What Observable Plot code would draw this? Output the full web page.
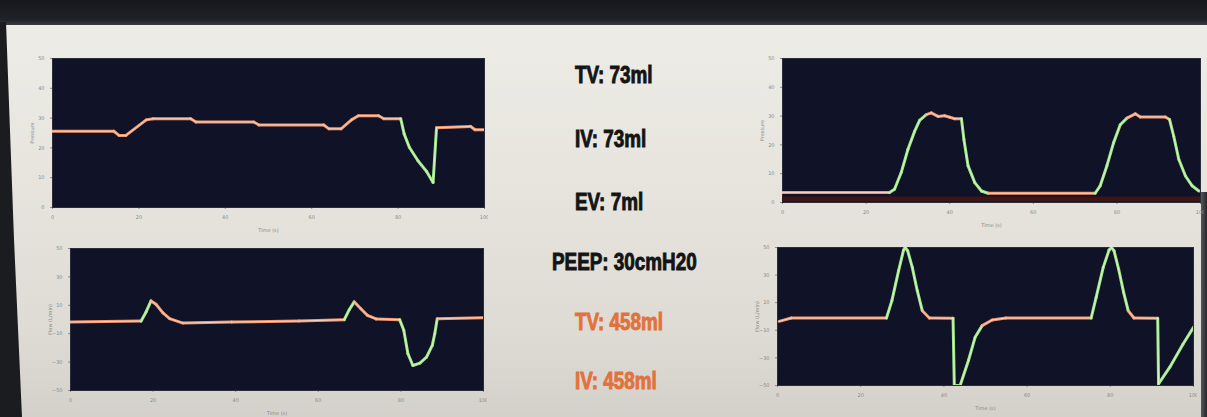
<!DOCTYPE html>
<html><head><meta charset="utf-8">
<script src="https://cdn.jsdelivr.net/npm/d3@7"></script>
<script src="https://cdn.jsdelivr.net/npm/@observablehq/plot@0.6"></script>
<style>
html,body{margin:0;padding:0;}
body{width:1207px;height:417px;overflow:hidden;position:relative;
 background:linear-gradient(180deg,#eeede7 0%,#e6e4dd 45%,#dddbd4 80%,#d3d1ca 100%);
 font-family:"Liberation Sans",sans-serif;}
#topband{position:absolute;left:0;top:0;width:1207px;height:25px;background:linear-gradient(180deg,#15171c 0%,#1f2228 80%,#3a3c40 100%);}
#leftedge{position:absolute;left:0;top:22px;width:26px;height:395px;background:#1b1c20;
 clip-path:polygon(0 0,6px 0,14px 55%,22px 100%,0 100%);}
#rightedge{position:absolute;left:1201px;top:192px;width:6px;height:225px;background:linear-gradient(90deg,#55565a,#26272b);}
.chart{position:absolute;}
.stat{position:absolute;font-family:"Liberation Sans",sans-serif;font-weight:700;
 font-size:23px;line-height:23px;white-space:nowrap;-webkit-text-stroke:0.9px currentColor;
 transform:scaleX(0.82);transform-origin:0 50%;}
.dark{color:#141414;}
.orange{color:#e2723d;}
</style></head><body>
<div id="topband"></div>
<div id="leftedge"></div>
<div id="rightedge"></div>
<div id="tl" class="chart" style="left:18px;top:54px"></div>
<div id="bl" class="chart" style="left:36px;top:244px"></div>
<div id="tr" class="chart" style="left:748px;top:54px"></div>
<div id="br" class="chart" style="left:743px;top:243px"></div>
<div id="stats"></div>
<script>
// ---- Tick labels ----
const timeTicks = [0, 20, 40, 60, 80, 100];
const pressureTicks = [0, 10, 20, 30, 40, 50];
const flowTicks = [-50, -30, -10, 10, 30, 50];

// ---- Top-left: pressure (small breath) ----
const tlTime = [0,14.2,15.4,17.0,21.7,23.3,32.0,33.2,46.6,47.8,62.8,64.0,66.8,69.2,70.8,75.5,76.7,80.6,81.4,82.6,84.6,86.6,88.1,88.9,96.8,97.8,100];
const tlPressure = [25.6,25.6,24.2,24.2,29.4,29.8,29.8,28.7,28.7,27.7,27.7,26.4,26.4,29.4,30.8,30.8,29.8,29.8,24.7,20.2,15.7,12.1,8.4,26.8,27.2,26.1,26.1];
const tlPhase = ["E","E","E","E","E","E","E","E","E","E","E","E","E","E","E","E","E","I","I","I","I","I","I","E","E","E","E"];

// ---- Bottom-left: flow (small breath) ----
const blTime = [0,17.1,18.3,19.5,20.7,22.4,24.0,27.2,39.0,55.3,66.3,67.5,68.7,70.3,71.9,74.0,79.7,80.7,81.7,82.9,84.6,86.2,87.6,88.2,88.8,100];
const blFlow = [-1.8,-1.1,5.3,13.1,10.7,4.6,0.6,-2.5,-1.8,-1.1,-0.1,6.9,12.4,7.6,2.9,0.4,-0.1,-7.6,-24.1,-32.4,-30.7,-26.5,-18.2,-10.0,0.6,1.3];
const blPhase = ["E","I","I","E","E","E","E","E","E","E","I","I","E","E","E","E","I","I","I","I","I","I","I","I","E","E"];

// ---- Top-right: pressure (large breaths) ----
const trTime = [0,25.6,26.8,28.4,30.0,31.6,32.8,34.4,35.6,37.2,38.8,40.0,41.2,42.8,43.4,44.4,46.0,47.6,49.2,74.8,76.0,77.6,79.2,80.8,82.4,84.4,85.6,91.6,92.6,93.6,94.8,96.4,98.0,99.6];
const trPressure = [3.45,3.45,4.6,10.4,18.4,24.7,28.5,30.5,31.1,29.9,30.1,29.6,29.1,29.1,21.9,12.7,6.9,4.0,3.2,3.2,5.8,12.7,20.7,27.0,29.3,30.8,29.7,29.7,28.8,23.0,15.0,9.2,5.8,4.0];
const trPhase = ["E","I","I","I","I","I","I","E","E","E","E","E","E","I","I","I","I","I","E","I","I","I","I","I","E","E","E","E","I","I","I","I","I","I"];
const trBand = [1.2];

// ---- Bottom-right: flow (large breaths) ----
const brTime = [0.4,3.3,26.2,27.5,29.1,30.3,30.7,31.3,32.4,33.6,34.8,36.5,42.2,42.5,43.9,45.9,47.5,49.2,51.6,54.9,75.4,76.6,78.3,79.7,80.3,80.9,82.0,83.2,84.3,85.7,91.4,91.6,94.3,97.5,100];
const brFlow = [-3.5,-1.1,-1.1,11.5,33.1,48.1,50,47.6,35.6,18.7,4.2,-1.1,-1.3,-50,-50,-31.9,-15.1,-6.6,-2.5,-1.1,-1.1,13.9,35.6,48.1,50,47.6,34.4,17.5,4.2,-1.1,-1.3,-48.8,-36.7,-19.9,-7.8];
const brPhase = ["E","E","I","I","I","I","I","I","I","I","E","E","I","I","I","I","I","E","E","E","I","I","I","I","I","I","I","I","E","E","I","I","I","I","I"];

// ---- Middle readouts ----
const statLabels = ["TV: 73ml","IV: 73ml","EV: 7ml","PEEP: 30cmH20","TV: 458ml","IV: 458ml"];
const statGroup = ["dark","dark","dark","dark","orange","orange"];

const phaseColor = {E: "#ef9a72", I: "#9fe585"};
const phaseCore = {E: "#fde2d3", I: "#e4fbd9"};

function segments(t, v, ph) {
  const s = [];
  for (let i = 0; i < t.length - 1; i++) s.push({x1: t[i], y1: v[i], x2: t[i+1], y2: v[i+1], p: ph[i]});
  return s;
}

function chart({w, h, ml, mt, mb, mr, yDomain, yTicks, yLabel, t, v, ph, extra = []}) {
  const segs = segments(t, v, ph);
  return Plot.plot({
    width: w, height: h,
    marginLeft: ml, marginTop: mt, marginBottom: mb, marginRight: mr,
    style: {background: "transparent", color: "#8c8b86", fontSize: "5px", fontFamily: "DejaVu Sans, sans-serif"},
    x: {domain: [0, 100], ticks: timeTicks, tickSize: 2, tickPadding: 6, label: "Time (s)", labelAnchor: "center", labelArrow: "none", labelOffset: 24},
    y: {domain: yDomain, ticks: yTicks, tickSize: 2, tickPadding: 6, label: yLabel, labelAnchor: "center", labelArrow: "none", labelOffset: 22},
    color: {type: "identity"},
    marks: [
      Plot.frame({fill: "#101227", stroke: "#2a2c3a"}),
      ...extra,
      Plot.link(segs, {x1: "x1", y1: "y1", x2: "x2", y2: "y2", stroke: d => phaseColor[d.p], strokeWidth: 3, strokeLinecap: "round", clip: true}),
      Plot.link(segs, {x1: "x1", y1: "y1", x2: "x2", y2: "y2", stroke: d => phaseCore[d.p], strokeWidth: 1, strokeOpacity: 0.75, strokeLinecap: "round", clip: true})
    ]
  });
}

document.getElementById("tl").append(chart({w: 470, h: 183, ml: 34, mt: 4, mb: 30, mr: 4,
  yDomain: [0, 50], yTicks: pressureTicks, yLabel: "Pressure", t: tlTime, v: tlPressure, ph: tlPhase}));
document.getElementById("bl").append(chart({w: 451, h: 176, ml: 34, mt: 4, mb: 30, mr: 4,
  yDomain: [-50, 50], yTicks: flowTicks, yLabel: "Flow (L/min)", t: blTime, v: blFlow, ph: blPhase}));
document.getElementById("tr").append(chart({w: 456, h: 178, ml: 34, mt: 4, mb: 30, mr: 4,
  yDomain: [0, 50], yTicks: pressureTicks, yLabel: "Pressure", t: trTime, v: trPressure, ph: trPhase,
  extra: [Plot.ruleY(trBand, {stroke: "#3c1517", strokeWidth: 5})]}));
document.getElementById("br").append(chart({w: 454, h: 172, ml: 34, mt: 4, mb: 30, mr: 4,
  yDomain: [-50, 50], yTicks: flowTicks, yLabel: "Flow (L/min)", t: brTime, v: brFlow, ph: brPhase}));

// middle text layout
const statLeft = [575, 575, 575, 552, 575, 575];
const statBaseline = [83, 147, 210, 270, 330, 389];
const stats = document.getElementById("stats");
statLabels.forEach((s, i) => {
  const d = document.createElement("div");
  d.className = "stat " + statGroup[i];
  d.textContent = s;
  d.style.left = statLeft[i] + "px";
  d.style.top = (statBaseline[i] - 19.5) + "px";
  stats.append(d);
});
</script>
</body></html>
